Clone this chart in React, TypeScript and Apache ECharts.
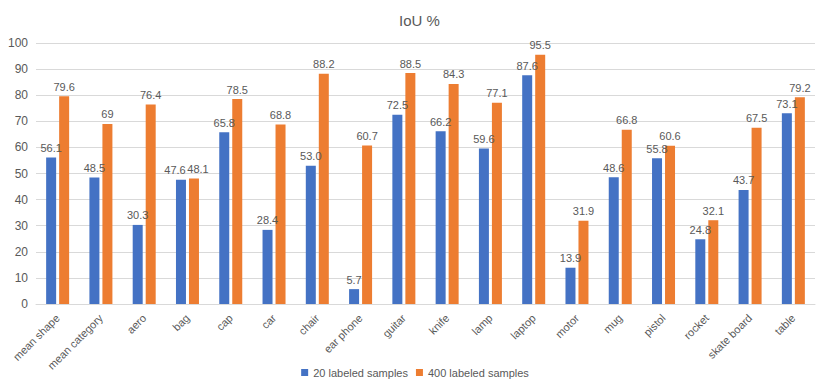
import React, { useEffect, useRef } from "react";
import * as echarts from "echarts";

const categories = ["mean shape", "mean category", "aero", "bag", "cap", "car", "chair", "ear phone", "guitar", "knife", "lamp", "laptop", "motor", "mug", "pistol", "rocket", "skate board", "table"];
const values20 = [56.1, 48.5, 30.3, 47.6, 65.8, 28.4, 53.0, 5.7, 72.5, 66.2, 59.6, 87.6, 13.9, 48.6, 55.8, 24.8, 43.7, 73.1];
const values400 = [79.6, 69, 76.4, 48.1, 78.5, 68.8, 88.2, 60.7, 88.5, 84.3, 77.1, 95.5, 31.9, 66.8, 60.6, 32.1, 67.5, 79.2];
const labels20 = ["56.1", "48.5", "30.3", "47.6", "65.8", "28.4", "53.0", "5.7", "72.5", "66.2", "59.6", "87.6", "13.9", "48.6", "55.8", "24.8", "43.7", "73.1"];
const labels400 = ["79.6", "69", "76.4", "48.1", "78.5", "68.8", "88.2", "60.7", "88.5", "84.3", "77.1", "95.5", "31.9", "66.8", "60.6", "32.1", "67.5", "79.2"];

const FONT = "'Liberation Sans', Arial, sans-serif";
const GREY = "#595959";

export default function App() {
  const ref = useRef<HTMLDivElement>(null);
  useEffect(() => {
    document.body.style.margin = "0";
    if (!ref.current) return;
    const chart = echarts.init(ref.current, undefined, { renderer: "svg" });
    const mkLabel = (labels: string[]) => ({
      show: true,
      position: "top",
      distance: 4,
      fontFamily: FONT,
      fontSize: 11,
      color: GREY,
      formatter: (p: any) => labels[p.dataIndex],
    });
    const data20 = values20.map((v, i) =>
      i === 3 ? { value: v, label: { offset: [-6, 0] } } : v
    );
    const data400 = values400.map((v, i) =>
      i === 3 ? { value: v, label: { offset: [4, 0] } } : v
    );
    chart.setOption({
      animation: false,
      textStyle: { fontFamily: FONT },
      title: {
        text: "IoU %",
        left: 394,
        top: 8,
        textStyle: { fontFamily: FONT, fontSize: 15, fontWeight: "normal", color: GREY },
      },
      legend: {
        bottom: 6,
        left: "center",
        itemWidth: 7,
        itemHeight: 7,
        itemGap: 8,
        icon: "rect",
        textStyle: { fontFamily: FONT, fontSize: 11, color: GREY },
        data: ["20 labeled samples", "400 labeled samples"],
      },
      grid: { left: 36, right: 15, top: 43, bottom: 85, containLabel: false },
      xAxis: {
        type: "category",
        data: categories,
        axisLine: { lineStyle: { color: "#d9d9d9" } },
        axisTick: { show: false },
        axisLabel: { rotate: 45, interval: 0, fontFamily: FONT, fontSize: 11, color: GREY, margin: 12 },
      },
      yAxis: {
        type: "value",
        min: 0,
        max: 100,
        interval: 10,
        axisLine: { show: false },
        axisTick: { show: false },
        splitLine: { lineStyle: { color: "#d9d9d9" } },
        axisLabel: { fontFamily: FONT, fontSize: 12, color: GREY, margin: 8 },
      },
      series: [
        {
          name: "20 labeled samples",
          type: "bar",
          data: data20,
          barWidth: 10,
          barGap: "30%",
          itemStyle: { color: "#4472C4" },
          label: mkLabel(labels20),
        },
        {
          name: "400 labeled samples",
          type: "bar",
          data: data400,
          barWidth: 10,
          barGap: "30%",
          itemStyle: { color: "#ED7D31" },
          label: mkLabel(labels400),
        },
      ],
    });
    return () => chart.dispose();
  }, []);
  return <div ref={ref} style={{ width: 830, height: 389 }} />;
}
